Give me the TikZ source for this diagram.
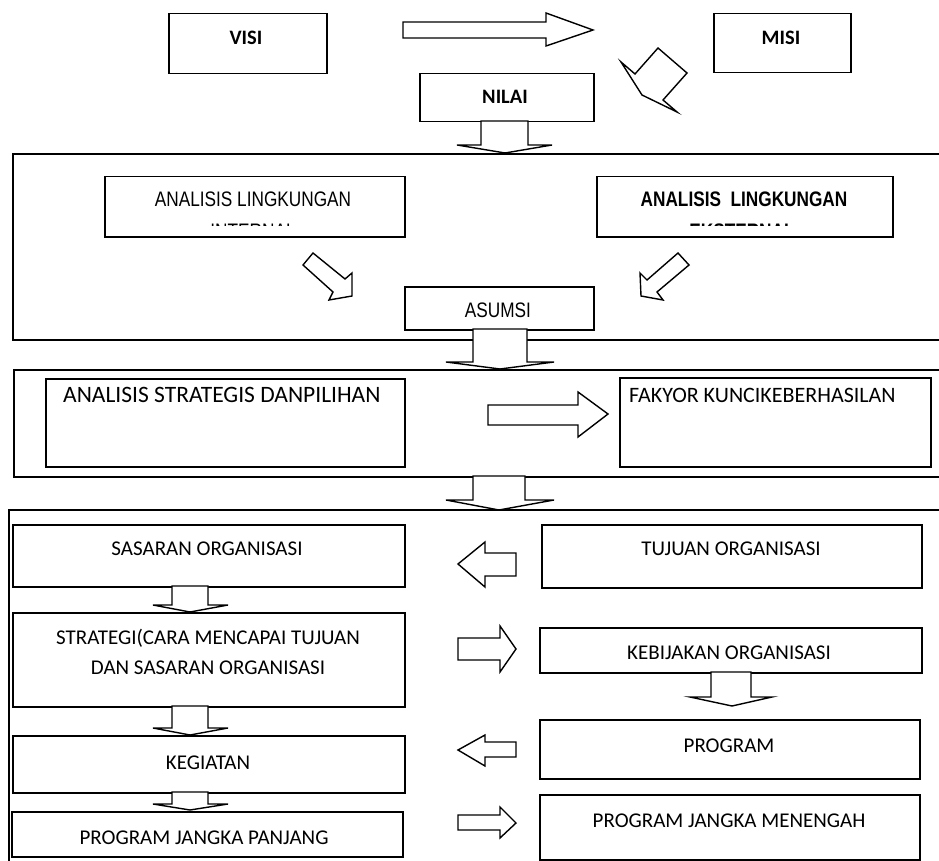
\documentclass[tikz,border=0pt]{standalone}
\usepackage{fontspec}
\setmainfont{Carlito}
\newfontfamily\narrowfont[FakeStretch=0.82]{Liberation Sans}
\begin{document}
\begin{tikzpicture}[x=1pt,y=-1pt,line join=miter,
  box/.style={draw,line width=1.5pt,fill=white,inner sep=0,anchor=north west},
  frame/.style={draw,line width=1.6pt,inner sep=0,anchor=north west},
  barrow/.style={draw,line width=1.4pt,fill=white},
  txt/.style={anchor=base,inner sep=0,font=\fontsize{21}{25}\selectfont},
  ltxt/.style={anchor=base west,inner sep=0,font=\fontsize{22}{26}\selectfont},
  btxt/.style={anchor=base,inner sep=0,font=\bfseries\fontsize{20.5}{24}\selectfont},
  ntxt/.style={anchor=base,inner sep=0,font=\narrowfont\fontsize{21}{25}\selectfont},
  nbtxt/.style={anchor=base,inner sep=0,font=\narrowfont\bfseries\fontsize{21}{25}\selectfont}]
\clip (0,0) rectangle (939,861);
% frames
\node[frame,minimum width=950pt,minimum height=186pt] (frame1) at (12,153) {};
\node[frame,minimum width=950pt,minimum height=107pt] (frame2) at (13,369) {};
\node[frame,minimum width=950pt,minimum height=400pt] (frame3) at (8,509) {};
% boxes
\node[box,minimum width=158pt,minimum height=60pt] (visi) at (168,13) {};
\node[box,minimum width=137pt,minimum height=59pt] (misi) at (713,13) {};
\node[box,minimum width=174pt,minimum height=48pt] (nilai) at (419,73) {};
\node[box,minimum width=300pt,minimum height=60pt] (alin) at (104,176) {};
\node[box,minimum width=296pt,minimum height=60pt] (alex) at (596,176) {};
\node[box,minimum width=189pt,minimum height=43pt] (asumsi) at (404,286) {};
\node[box,minimum width=359pt,minimum height=88pt] (astr) at (45,378) {};
\node[box,minimum width=311pt,minimum height=89pt] (fakyor) at (619,377) {};
\node[box,minimum width=392pt,minimum height=62pt] (sasaran) at (12,524) {};
\node[box,minimum width=380pt,minimum height=63pt] (tujuan) at (541,524) {};
\node[box,minimum width=392pt,minimum height=94pt] (strategi) at (12,612) {};
\node[box,minimum width=382pt,minimum height=45pt] (kebijakan) at (539,627) {};
\node[box,minimum width=392pt,minimum height=57pt] (kegiatan) at (12,735) {};
\node[box,minimum width=380pt,minimum height=59pt] (program) at (539,719) {};
\node[box,minimum width=391pt,minimum height=45pt] (pjp) at (11,811) {};
\node[box,minimum width=380pt,minimum height=65pt] (pjm) at (539,794) {};
% texts
\node[btxt] (tvisi) at (246,45) {VISI};
\node[btxt] (tmisi) at (781,45) {MISI};
\node[btxt] (tnilai) at (505,104) {NILAI};
\node[ntxt] (talin) at (253,207) {ANALISIS LINGKUNGAN};
\node[nbtxt] (talex) at (744,207) {ANALISIS\ \ LINGKUNGAN};
\begin{scope}
\clip (100,222) rectangle (900,225.5);
\node[ntxt] (talin2) at (253,238) {INTERNAL};
\node[nbtxt] (talex2) at (742,238) {EKSTERNAL};
\end{scope}
\node[ntxt] (tasumsi) at (498,317) {ASUMSI};
\node[ltxt,font=\fontsize{23.5}{27}\selectfont] (tastr) at (63,402) {ANALISIS STRATEGIS DANPILIHAN};
\node[ltxt] (tfak) at (629,402) {FAKYOR KUNCIKEBERHASILAN};
\node[txt] (tsas) at (207,555) {SASARAN ORGANISASI};
\node[txt] (ttuj) at (731,555) {TUJUAN ORGANISASI};
\node[txt] (tstr1) at (208,644) {STRATEGI(CARA MENCAPAI TUJUAN};
\node[txt] (tstr2) at (208,674) {DAN SASARAN ORGANISASI};
\node[txt] (tkeb) at (729,659) {KEBIJAKAN ORGANISASI};
\node[txt] (tkeg) at (208,769) {KEGIATAN};
\node[txt] (tprog) at (729,752) {PROGRAM};
\node[txt] (tpjp) at (204,844) {PROGRAM JANGKA PANJANG};
\node[txt] (tpjm) at (729,827) {PROGRAM JANGKA MENENGAH};
% block arrows
\draw[barrow] (403,22)--(546,22)--(546,13)--(593,30)--(546,46)--(546,38)--(403,38)--cycle;
\draw[barrow] (621,62)--(635,74)--(658,48)--(687,73)--(663,100)--(677,112)--(642,95)--cycle;
\draw[barrow] (481,121)--(481,145)--(457,145)--(505,153)--(552,145)--(528,145)--(528,121)--cycle;
\draw[barrow] (313,253)--(303,265)--(333,292)--(329,300)--(352,296)--(352,273)--(345,279)--cycle;
\draw[barrow] (678,253)--(689,265)--(657,292)--(663,300)--(641,296)--(640,273)--(647,280)--cycle;
\draw[barrow] (473,329)--(473,362)--(446,362)--(500,369)--(554,362)--(527,362)--(527,329)--cycle;
\draw[barrow] (488,405)--(578,405)--(578,392)--(608,414)--(578,437)--(578,425)--(488,425)--cycle;
\draw[barrow] (473,476)--(473,500)--(446,500)--(499,510)--(554,500)--(525,500)--(525,476)--cycle;
\draw[barrow] (516,553)--(485,553)--(485,542)--(458,564)--(485,587)--(485,576)--(516,576)--cycle;
\draw[barrow] (172,586)--(172,605)--(153,605)--(190,612)--(228,605)--(208,605)--(208,586)--cycle;
\draw[barrow] (458,638)--(500,638)--(500,626)--(516,649)--(500,672)--(500,660)--(458,660)--cycle;
\draw[barrow] (711,672)--(711,697)--(690,697)--(732,706)--(772,697)--(751,697)--(751,672)--cycle;
\draw[barrow] (172,706)--(172,728)--(153,728)--(190,735)--(228,728)--(208,728)--(208,706)--cycle;
\draw[barrow] (516,742)--(485,742)--(485,735)--(458,750)--(485,766)--(485,757)--(516,757)--cycle;
\draw[barrow] (172,792)--(172,804)--(153,804)--(190,810)--(228,804)--(208,804)--(208,792)--cycle;
\draw[barrow] (458,815)--(500,815)--(500,807)--(516,823)--(500,838)--(500,830)--(458,830)--cycle;
\end{tikzpicture}
\end{document}
